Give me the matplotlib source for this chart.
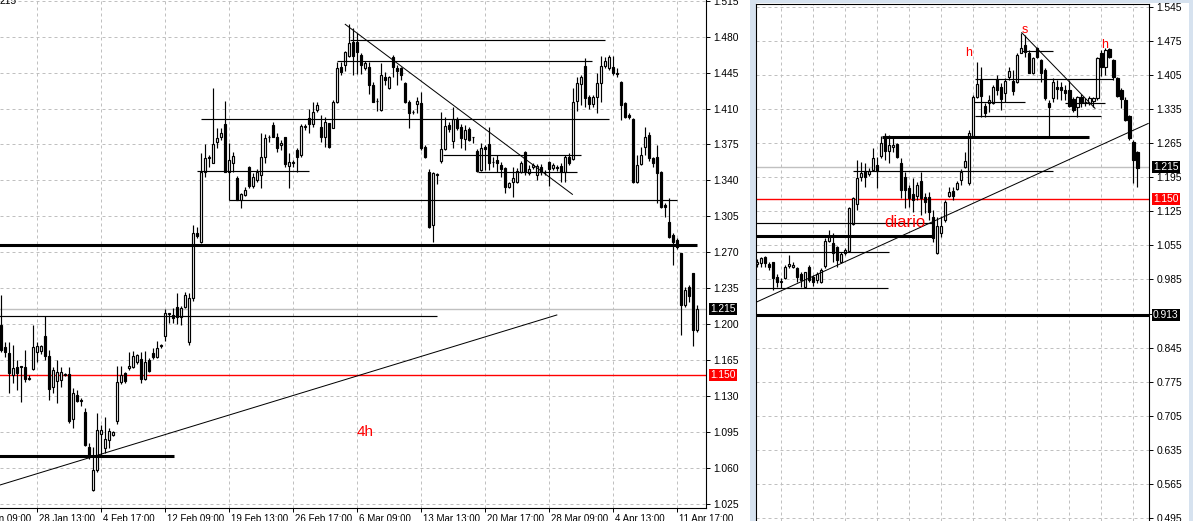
import numpy as np
import matplotlib.pyplot as plt
from matplotlib.patches import Rectangle
from matplotlib.transforms import blended_transform_factory

plt.rcParams['font.family'] = ['Liberation Sans', 'DejaVu Sans']

# ---------------- 4h chart (left) ----------------
h4_open = [1.199, 1.178, 1.172, 1.150, 1.158, 1.159, 1.158, 1.147, 1.156, 1.173,
           1.174, 1.188, 1.169, 1.139, 1.145, 1.146, 1.150, 1.151, 1.108, 1.131,
           1.126, 1.114, 1.080, 1.038, 1.058, 1.093, 1.079, 1.087, 1.092, 1.106,
           1.144, 1.152, 1.157, 1.158, 1.163, 1.166, 1.147, 1.165, 1.172, 1.168,
           1.179, 1.188, 1.210, 1.209, 1.217, 1.207, 1.217, 1.183, 1.225, 1.289,
           1.280, 1.348, 1.362, 1.357, 1.377, 1.382, 1.395, 1.348, 1.357, 1.342,
           1.321, 1.326, 1.353, 1.335, 1.340, 1.345, 1.363, 1.382, 1.394, 1.382,
           1.374, 1.382, 1.354, 1.357, 1.370, 1.365, 1.392, 1.401, 1.395, 1.409,
           1.392, 1.382, 1.396, 1.391, 1.416, 1.450, 1.452, 1.461, 1.475, 1.475,
           1.462, 1.449, 1.450, 1.433, 1.417, 1.409, 1.441, 1.430, 1.460, 1.449,
           1.449, 1.435, 1.416, 1.407, 1.414, 1.415, 1.373, 1.348, 1.297, 1.345,
           1.359, 1.371, 1.394, 1.378, 1.400, 1.392, 1.380, 1.390, 1.382, 1.369,
           1.350, 1.373, 1.375, 1.358, 1.360, 1.355, 1.352, 1.334, 1.338, 1.338,
           1.348, 1.368, 1.347, 1.353, 1.345, 1.353, 1.348, 1.358, 1.352, 1.353,
           1.354, 1.348, 1.363, 1.361, 1.417, 1.434, 1.451, 1.421, 1.414, 1.421,
           1.435, 1.451, 1.449, 1.450, 1.445, 1.436, 1.415, 1.404, 1.400, 1.338,
           1.356, 1.373, 1.384, 1.362, 1.363, 1.348, 1.316, 1.299, 1.287, 1.282,
           1.269, 1.219, 1.236, 1.250, 1.194]
h4_high = [1.228, 1.183, 1.183, 1.180, 1.165, 1.159, 1.175, 1.150, 1.199, 1.183,
           1.180, 1.208, 1.175, 1.158, 1.165, 1.158, 1.152, 1.158, 1.138, 1.136,
           1.128, 1.118, 1.084, 1.080, 1.113, 1.102, 1.110, 1.099, 1.096, 1.159,
           1.159, 1.153, 1.173, 1.174, 1.171, 1.173, 1.174, 1.167, 1.177, 1.184,
           1.181, 1.215, 1.211, 1.216, 1.230, 1.218, 1.231, 1.230, 1.297, 1.295,
           1.367, 1.375, 1.365, 1.430, 1.391, 1.391, 1.417, 1.376, 1.368, 1.344,
           1.328, 1.334, 1.354, 1.347, 1.351, 1.386, 1.385, 1.384, 1.397, 1.386,
           1.379, 1.382, 1.367, 1.360, 1.372, 1.395, 1.395, 1.410, 1.416, 1.416,
           1.404, 1.402, 1.396, 1.418, 1.455, 1.455, 1.466, 1.492, 1.488, 1.484,
           1.464, 1.456, 1.455, 1.436, 1.420, 1.454, 1.446, 1.442, 1.462, 1.452,
           1.450, 1.436, 1.418, 1.409, 1.421, 1.426, 1.374, 1.351, 1.348, 1.347,
           1.407, 1.402, 1.397, 1.411, 1.402, 1.395, 1.394, 1.392, 1.382, 1.371,
           1.376, 1.374, 1.392, 1.363, 1.365, 1.358, 1.353, 1.338, 1.353, 1.352,
           1.359, 1.369, 1.355, 1.357, 1.356, 1.356, 1.350, 1.359, 1.357, 1.355,
           1.357, 1.365, 1.367, 1.430, 1.441, 1.443, 1.459, 1.423, 1.423, 1.445,
           1.461, 1.460, 1.462, 1.461, 1.449, 1.437, 1.416, 1.406, 1.401, 1.365,
           1.373, 1.392, 1.387, 1.363, 1.374, 1.349, 1.318, 1.323, 1.289, 1.284,
           1.269, 1.236, 1.238, 1.250, 1.219]
h4_low = [1.173, 1.168, 1.133, 1.143, 1.136, 1.124, 1.144, 1.146, 1.155, 1.163,
          1.171, 1.165, 1.126, 1.133, 1.123, 1.139, 1.149, 1.104, 1.099, 1.124,
          1.120, 1.081, 1.069, 1.037, 1.056, 1.073, 1.074, 1.079, 1.091, 1.103,
          1.142, 1.143, 1.155, 1.157, 1.161, 1.143, 1.146, 1.153, 1.166, 1.167,
          1.177, 1.184, 1.201, 1.201, 1.200, 1.199, 1.216, 1.180, 1.223, 1.284,
          1.279, 1.343, 1.353, 1.357, 1.372, 1.379, 1.348, 1.348, 1.348, 1.321,
          1.313, 1.325, 1.333, 1.333, 1.338, 1.333, 1.357, 1.377, 1.382, 1.368,
          1.370, 1.353, 1.333, 1.353, 1.348, 1.363, 1.389, 1.386, 1.392, 1.407,
          1.377, 1.373, 1.372, 1.391, 1.415, 1.443, 1.447, 1.460, 1.443, 1.444,
          1.444, 1.448, 1.424, 1.416, 1.408, 1.408, 1.433, 1.429, 1.441, 1.433,
          1.438, 1.415, 1.391, 1.405, 1.406, 1.370, 1.362, 1.294, 1.280, 1.336,
          1.357, 1.370, 1.387, 1.372, 1.389, 1.372, 1.370, 1.378, 1.376, 1.348,
          1.349, 1.350, 1.350, 1.353, 1.348, 1.343, 1.328, 1.333, 1.324, 1.337,
          1.347, 1.345, 1.345, 1.351, 1.340, 1.345, 1.345, 1.335, 1.350, 1.349,
          1.338, 1.338, 1.355, 1.360, 1.408, 1.413, 1.411, 1.410, 1.411, 1.406,
          1.416, 1.449, 1.448, 1.443, 1.441, 1.399, 1.401, 1.400, 1.337, 1.337,
          1.355, 1.365, 1.359, 1.353, 1.318, 1.313, 1.304, 1.284, 1.258, 1.273,
          1.189, 1.217, 1.222, 1.179, 1.192]
h4_close = [1.175, 1.173, 1.152, 1.157, 1.152, 1.158, 1.147, 1.148, 1.178, 1.179,
            1.179, 1.169, 1.137, 1.155, 1.153, 1.153, 1.151, 1.106, 1.133, 1.125,
            1.125, 1.082, 1.071, 1.058, 1.097, 1.097, 1.088, 1.096, 1.095, 1.144,
            1.150, 1.145, 1.159, 1.169, 1.170, 1.147, 1.163, 1.154, 1.168, 1.177,
            1.180, 1.211, 1.211, 1.206, 1.207, 1.216, 1.228, 1.225, 1.289, 1.286,
            1.348, 1.362, 1.363, 1.375, 1.381, 1.386, 1.348, 1.360, 1.364, 1.321,
            1.327, 1.331, 1.335, 1.343, 1.348, 1.363, 1.381, 1.382, 1.382, 1.372,
            1.376, 1.356, 1.358, 1.358, 1.363, 1.393, 1.393, 1.395, 1.407, 1.413,
            1.382, 1.397, 1.373, 1.416, 1.449, 1.446, 1.465, 1.474, 1.461, 1.465,
            1.452, 1.454, 1.433, 1.416, 1.417, 1.443, 1.438, 1.441, 1.450, 1.447,
            1.443, 1.416, 1.406, 1.407, 1.417, 1.372, 1.363, 1.295, 1.347, 1.346,
            1.371, 1.393, 1.390, 1.400, 1.391, 1.381, 1.389, 1.379, 1.382, 1.349,
            1.372, 1.371, 1.357, 1.358, 1.357, 1.351, 1.334, 1.337, 1.342, 1.349,
            1.357, 1.348, 1.351, 1.355, 1.354, 1.348, 1.348, 1.351, 1.355, 1.352,
            1.348, 1.363, 1.357, 1.416, 1.435, 1.441, 1.420, 1.414, 1.421, 1.435,
            1.451, 1.456, 1.460, 1.445, 1.444, 1.413, 1.402, 1.402, 1.338, 1.355,
            1.365, 1.382, 1.362, 1.357, 1.347, 1.314, 1.314, 1.285, 1.280, 1.275,
            1.219, 1.233, 1.227, 1.194, 1.215]

h4_price_ticks = [1.025, 1.060, 1.095, 1.130, 1.165, 1.200, 1.235, 1.270,
                  1.305, 1.340, 1.375, 1.410, 1.445, 1.480, 1.515]
h4_time_labels = ["21 Jan 09:00", "28 Jan 13:00", "4 Feb 17:00", "12 Feb 09:00",
                  "19 Feb 13:00", "26 Feb 17:00", "6 Mar 09:00", "13 Mar 13:00",
                  "20 Mar 17:00", "28 Mar 09:00", "4 Apr 13:00", "11 Apr 17:00"]
h4_time_bars = [-7, 9, 25, 41, 57, 73, 89, 105, 121, 137, 153, 169]

# drawn horizontal levels: price, first bar, last bar
h4_thick_price = [1.277, 1.0716]
h4_thick_from = [-1, -1]
h4_thick_to = [173.9, 43.2]
h4_thin_price = [1.2079, 1.4767, 1.4560, 1.3995, 1.3489, 1.3206, 1.3644, 1.3479]
h4_thin_from = [-1, 87.2, 84.0, 50.0, 49.0, 57.0, 110.4, 119.2]
h4_thin_to = [108.9, 150.9, 147.7, 151.9, 77.0, 169.0, 144.9, 143.9]
# trend lines: (bar, price) -> (bar, price)
h4_trend = [((-0.33, 1.0433), (138.9, 1.2089)), ((86.0, 1.4920), (142.8, 1.3264))]

# ---------------- daily chart (right) ----------------
d1_open = [1.017, 1.019, 1.031, 1.017, 1.021, 0.990, 0.980, 0.988, 1.013, 1.011,
           1.009, 0.996, 0.970, 1.011, 0.990, 0.984, 0.980, 1.013, 1.064, 1.060,
           1.052, 1.021, 1.039, 1.044, 1.099, 1.140, 1.195, 1.208, 1.202, 1.210,
           1.220, 1.239, 1.280, 1.249, 1.257, 1.263, 1.224, 1.195, 1.173, 1.161,
           1.156, 1.187, 1.154, 1.154, 1.113, 1.039, 1.080, 1.107, 1.156, 1.167,
           1.171, 1.189, 1.216, 1.183, 1.280, 1.360, 1.397, 1.341, 1.347, 1.347,
           1.397, 1.380, 1.368, 1.401, 1.393, 1.390, 1.450, 1.466, 1.450, 1.409,
           1.460, 1.436, 1.415, 1.347, 1.358, 1.380, 1.380, 1.374, 1.374, 1.356,
           1.339, 1.360, 1.350, 1.347, 1.351, 1.358, 1.450, 1.421, 1.458, 1.436,
           1.399, 1.374, 1.353, 1.321, 1.267, 1.247]
d1_high = [1.027, 1.031, 1.033, 1.021, 1.021, 0.996, 0.988, 1.015, 1.035, 1.021,
           1.011, 1.000, 1.000, 1.015, 0.994, 1.000, 1.009, 1.070, 1.087, 1.080,
           1.054, 1.041, 1.050, 1.134, 1.154, 1.230, 1.226, 1.224, 1.214, 1.255,
           1.237, 1.280, 1.286, 1.282, 1.275, 1.265, 1.234, 1.206, 1.179, 1.193,
           1.185, 1.206, 1.163, 1.165, 1.128, 1.113, 1.115, 1.148, 1.175, 1.175,
           1.187, 1.212, 1.247, 1.292, 1.364, 1.432, 1.421, 1.347, 1.364, 1.384,
           1.405, 1.388, 1.399, 1.421, 1.415, 1.450, 1.491, 1.487, 1.456, 1.442,
           1.462, 1.438, 1.419, 1.353, 1.399, 1.395, 1.390, 1.384, 1.395, 1.360,
           1.362, 1.366, 1.358, 1.362, 1.360, 1.442, 1.456, 1.460, 1.460, 1.438,
           1.401, 1.378, 1.360, 1.323, 1.271, 1.249]
d1_low = [1.011, 1.011, 1.011, 1.005, 0.963, 0.970, 0.968, 0.986, 1.009, 1.009,
          0.980, 0.970, 0.968, 0.980, 0.972, 0.978, 0.978, 1.009, 1.062, 1.021,
          1.011, 1.019, 1.035, 1.041, 1.097, 1.128, 1.187, 1.175, 1.197, 1.208,
          1.173, 1.234, 1.230, 1.224, 1.247, 1.234, 1.152, 1.132, 1.134, 1.124,
          1.148, 1.117, 1.122, 1.107, 1.062, 1.037, 1.072, 1.103, 1.154, 1.148,
          1.169, 1.179, 1.214, 1.179, 1.278, 1.358, 1.319, 1.319, 1.329, 1.345,
          1.364, 1.333, 1.349, 1.395, 1.364, 1.388, 1.450, 1.442, 1.409, 1.407,
          1.440, 1.390, 1.353, 1.278, 1.349, 1.356, 1.353, 1.353, 1.339, 1.329,
          1.319, 1.339, 1.341, 1.343, 1.339, 1.353, 1.403, 1.405, 1.440, 1.395,
          1.360, 1.337, 1.310, 1.271, 1.183, 1.175]
d1_close = [1.021, 1.029, 1.019, 1.011, 0.988, 0.980, 0.981, 1.011, 1.017, 1.015,
            0.990, 0.984, 1.000, 0.984, 0.980, 0.996, 1.005, 1.064, 1.072, 1.039,
            1.025, 1.037, 1.046, 1.132, 1.152, 1.193, 1.204, 1.195, 1.208, 1.234,
            1.208, 1.265, 1.249, 1.261, 1.261, 1.237, 1.169, 1.169, 1.152, 1.148,
            1.179, 1.152, 1.144, 1.124, 1.070, 1.095, 1.095, 1.144, 1.165, 1.156,
            1.183, 1.206, 1.228, 1.286, 1.360, 1.386, 1.362, 1.327, 1.354, 1.380,
            1.374, 1.356, 1.393, 1.413, 1.372, 1.446, 1.460, 1.452, 1.409, 1.440,
            1.442, 1.409, 1.358, 1.339, 1.390, 1.376, 1.374, 1.368, 1.341, 1.333,
            1.360, 1.349, 1.349, 1.358, 1.358, 1.440, 1.421, 1.456, 1.442, 1.401,
            1.362, 1.356, 1.312, 1.276, 1.230, 1.214]

d1_price_ticks = [0.495, 0.565, 0.635, 0.705, 0.775, 0.845, 0.915, 0.985, 1.055,
                  1.125, 1.195, 1.265, 1.335, 1.405, 1.475, 1.545]
d1_grid_bars = [6, 14, 22, 30, 38, 46, 54, 62, 70, 78, 86, 94]

d1_thick_price = [0.913, 1.2782, 1.0749]
d1_thick_from = [-1, 31.2, -1]
d1_thick_to = [99, 82.9, 44.2]
d1_thin_price = [1.1004, 1.0408, 0.9669, 1.2071, 1.3200, 1.3494, 1.3467, 1.3960, 1.4541]
d1_thin_from = [-1, -1, -1, 23.9, 54.4, 54.2, 77.0, 54.5, 66.1]
d1_thin_to = [43.8, 32.8, 32.7, 73.8, 85.8, 66.9, 86.9, 89.0, 73.8]
d1_trend = [((66.1, 1.4917), (84.4, 1.3365)), ((-0.33, 0.9382), (97.7, 1.3053))]

current_price = 1.215
target_price = 1.150
support_price = 0.913

RED = '#ff0000'
GRID = '#c0c0c0'
PX = 0.72  # one pixel in points
LABEL_SIZE = 7.4


def draw_candles(ax, o, h, l, c):
    for i in range(len(o)):
        ax.vlines(i, l[i], h[i], color='black', lw=0.85, zorder=3)
        lo, hi = min(o[i], c[i]), max(o[i], c[i])
        fc = 'black' if c[i] < o[i] else 'white'
        ax.add_patch(Rectangle((i - 0.28, lo), 0.56, hi - lo, facecolor=fc,
                               edgecolor='black', lw=0.85, zorder=4))


def style_axes(ax, xlim, ylim, yticks, ylabels, xgrid):
    ax.set_xlim(*xlim)
    ax.set_ylim(*ylim)
    ax.yaxis.tick_right()
    ax.set_yticks(yticks)
    ax.set_yticklabels(ylabels)
    ax.set_xticks(xgrid)
    ax.set_xticklabels([])
    ax.tick_params(axis='y', length=3, width=0.7, pad=2.5, labelsize=LABEL_SIZE)
    ax.tick_params(axis='x', length=3, width=0.7)
    ax.grid(True, color=GRID, linestyle=(0, (3, 3)), linewidth=PX)
    ax.set_axisbelow(True)
    for s in ax.spines.values():
        s.set_linewidth(0.8)


def price_box(ax, price, text, color, dx):
    tr = blended_transform_factory(ax.transAxes, ax.transData)
    ax.text(1 + dx, price, text, transform=tr, color='white', fontsize=LABEL_SIZE,
            va='center', ha='left', zorder=10, clip_on=False,
            bbox=dict(boxstyle='square,pad=0.1', fc=color, ec='none'))


fig = plt.figure(figsize=(11.93, 5.21), dpi=100)

# ---- left: 4h ----
axl = fig.add_axes([0, 13 / 521, 706 / 1193, 508 / 521])
style_axes(axl, (-0.325, 176.2), (1.0209, 1.5157), h4_price_ticks,
           ['%.3f' % t for t in h4_price_ticks], h4_time_bars[1:])
axl.spines['top'].set_visible(False)
axl.spines['left'].set_visible(False)

axl.axhline(current_price, color=GRID, lw=1.0, zorder=2)
axl.axhline(target_price, color=RED, lw=1.0, zorder=2)
for p, a, b in zip(h4_thick_price, h4_thick_from, h4_thick_to):
    axl.hlines(p, a, b, color='black', lw=2.2, zorder=5)
for p, a, b in zip(h4_thin_price, h4_thin_from, h4_thin_to):
    axl.hlines(p, a, b, color='black', lw=0.85, zorder=5)
axl.vlines(57, 1.3206, 1.3489, color='black', lw=0.85, zorder=5)
for (x0, y0), (x1, y1) in h4_trend:
    axl.plot([x0, x1], [y0, y1], color='black', lw=PX, zorder=5)

draw_candles(axl, h4_open, h4_high, h4_low, h4_close)

axl.text(91.05, 1.0949, '4h', color=RED, fontsize=11, ha='center', va='center')

trx = blended_transform_factory(axl.transData, axl.transAxes)
for lab, k in zip(h4_time_labels, h4_time_bars):
    axl.text(k + 0.5, -6 / 508, lab, transform=trx, fontsize=7, ha='left',
             va='top', clip_on=False)

price_box(axl, current_price, '1.215', 'black', 4 / 706)
price_box(axl, target_price, '1.150', RED, 4 / 706)

fig.text(0.0, 1 - 1 / 521, '215', fontsize=LABEL_SIZE, ha='left', va='center')

# ---- right: daily ----
axr = fig.add_axes([756 / 1193, 0, 393 / 1193, 517 / 521])
d1_labels = ['' if t == 0.915 else '%.3f' % t for t in d1_price_ticks]
style_axes(axr, (-0.325, 97.9), (0.4892, 1.5506), d1_price_ticks, d1_labels, d1_grid_bars)
axr.spines['bottom'].set_visible(False)
axr.tick_params(axis='x', length=0)

axr.axhline(current_price, color=GRID, lw=1.0, zorder=2)
axr.axhline(target_price, color=RED, lw=1.0, zorder=2)
for p, a, b in zip(d1_thick_price, d1_thick_from, d1_thick_to):
    axr.hlines(p, a, b, color='black', lw=2.2, zorder=5)
for p, a, b in zip(d1_thin_price, d1_thin_from, d1_thin_to):
    axr.hlines(p, a, b, color='black', lw=0.85, zorder=5)
for (x0, y0), (x1, y1) in d1_trend:
    axr.plot([x0, x1], [y0, y1], color='black', lw=PX, zorder=5)

draw_candles(axr, d1_open, d1_high, d1_low, d1_close)

axr.text(36.9, 1.1010, 'diario', color=RED, fontsize=12, ha='center', va='center', zorder=6)
axr.text(52.9, 1.4490, 'h', color=RED, fontsize=9, ha='center', va='center')
axr.text(66.8, 1.4982, 's', color=RED, fontsize=9, ha='center', va='center')
axr.text(86.9, 1.4674, 'h', color=RED, fontsize=9, ha='center', va='center')

price_box(axr, current_price, '1.215', 'black', 4 / 393)
price_box(axr, target_price, '1.150', RED, 4 / 393)
price_box(axr, support_price, '0.913', 'black', 4 / 393)

# window frame strips
frame = '#d6e2ef'
fig.add_artist(Rectangle((750 / 1193, 0), 6 / 1193, 1, transform=fig.transFigure,
                         color=frame, lw=0, zorder=0))
fig.add_artist(Rectangle((1189 / 1193, 0), 4 / 1193, 1, transform=fig.transFigure,
                         color=frame, lw=0, zorder=0))
fig.add_artist(Rectangle((750 / 1193, 1 - 3 / 521), 443 / 1193, 3 / 521,
                         transform=fig.transFigure, color=frame, lw=0, zorder=0))

fig.savefig('out.png', dpi=100)
